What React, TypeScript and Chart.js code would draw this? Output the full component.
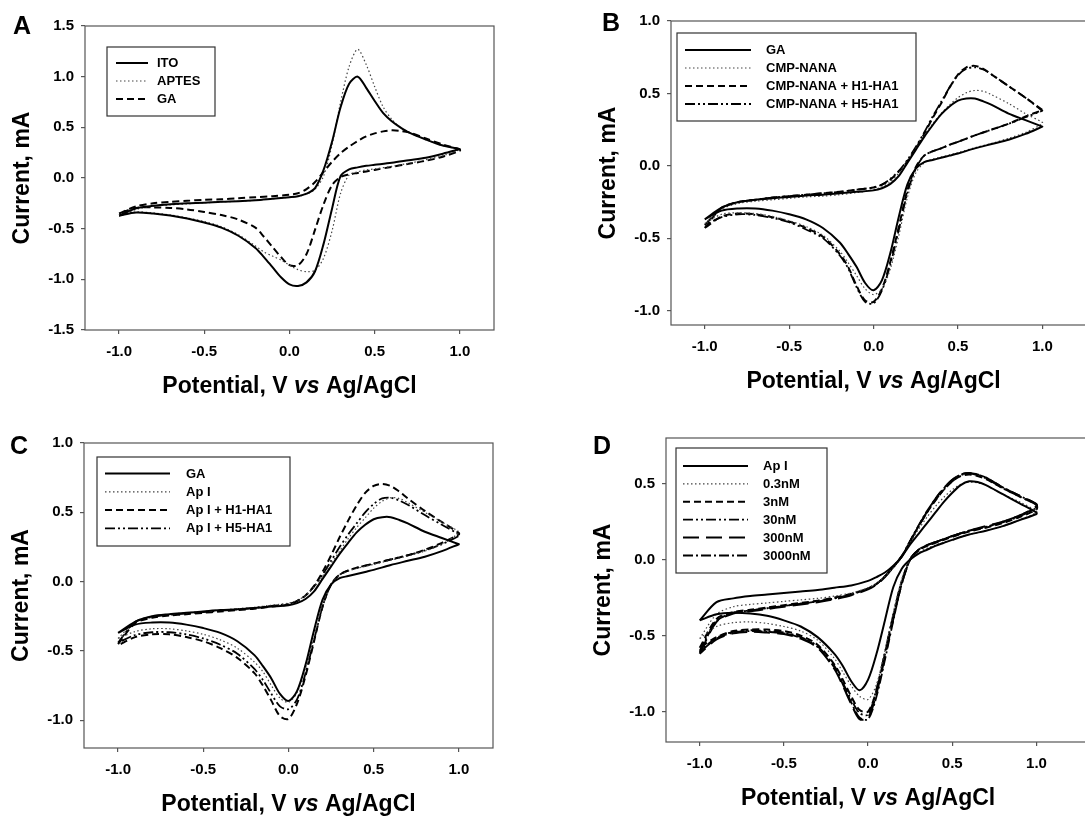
import React, { useEffect, useRef } from 'react';
import { Chart, registerables } from 'chart.js';

Chart.register(...registerables);

const FONT = '"Liberation Sans", Arial, Helvetica, sans-serif';

// Potential grids (V vs Ag/AgCl): forward (anodic) sweep and reverse (cathodic) sweep
const vFwd = [-1.0, -0.9, -0.8, -0.7, -0.6, -0.5, -0.4, -0.3, -0.2, -0.1, 0.0, 0.05, 0.1, 0.15, 0.2, 0.25, 0.3, 0.35, 0.4, 0.45, 0.5, 0.55, 0.6, 0.65, 0.7, 0.8, 0.9, 1.0];
const vRev = [1.0, 0.9, 0.8, 0.7, 0.6, 0.5, 0.45, 0.4, 0.35, 0.3, 0.25, 0.2, 0.15, 0.1, 0.05, 0.0, -0.05, -0.1, -0.15, -0.2, -0.3, -0.4, -0.5, -0.6, -0.7, -0.8, -0.9, -1.0];

const xTicks = [-1.0, -0.5, 0.0, 0.5, 1.0];
const yTicksA = [-1.5, -1.0, -0.5, 0.0, 0.5, 1.0, 1.5];
const yTicksB = [-1.0, -0.5, 0.0, 0.5, 1.0];
const yTicksC = [-1.0, -0.5, 0.0, 0.5, 1.0];
const yTicksD = [-1.0, -0.5, 0.0, 0.5];

// Panel A (mA)
const itoF = [-0.37, -0.30, -0.275, -0.26, -0.25, -0.245, -0.235, -0.23, -0.22, -0.205, -0.19, -0.18, -0.155, -0.10, 0.08, 0.36, 0.70, 0.93, 1.00, 0.89, 0.76, 0.64, 0.56, 0.50, 0.45, 0.38, 0.32, 0.285];
const itoR = [0.285, 0.24, 0.20, 0.175, 0.15, 0.13, 0.12, 0.105, 0.085, 0.02, -0.30, -0.65, -0.92, -1.03, -1.065, -1.05, -0.98, -0.88, -0.78, -0.69, -0.57, -0.49, -0.44, -0.40, -0.37, -0.35, -0.34, -0.37];
const aptesF = [-0.38, -0.31, -0.28, -0.265, -0.255, -0.245, -0.235, -0.23, -0.22, -0.205, -0.19, -0.18, -0.16, -0.11, 0.02, 0.33, 0.75, 1.10, 1.27, 1.12, 0.90, 0.70, 0.58, 0.50, 0.45, 0.38, 0.32, 0.285];
const aptesR = [0.28, 0.22, 0.18, 0.145, 0.115, 0.09, 0.08, 0.06, 0.03, -0.15, -0.52, -0.79, -0.91, -0.925, -0.905, -0.86, -0.81, -0.77, -0.73, -0.67, -0.56, -0.48, -0.43, -0.395, -0.365, -0.345, -0.335, -0.37];
const gaAF = [-0.35, -0.28, -0.25, -0.235, -0.225, -0.215, -0.21, -0.2, -0.19, -0.18, -0.165, -0.15, -0.11, -0.04, 0.06, 0.16, 0.245, 0.31, 0.365, 0.41, 0.44, 0.46, 0.47, 0.465, 0.45, 0.39, 0.33, 0.28];
const gaAR = [0.27, 0.21, 0.17, 0.14, 0.11, 0.08, 0.065, 0.05, 0.035, 0.01, -0.07, -0.26, -0.51, -0.75, -0.86, -0.86, -0.78, -0.68, -0.58, -0.49, -0.41, -0.365, -0.335, -0.31, -0.295, -0.29, -0.295, -0.35];

// GA reference (panels B and C)
const gaF = [-0.37, -0.29, -0.25, -0.235, -0.225, -0.215, -0.205, -0.2, -0.19, -0.18, -0.17, -0.155, -0.125, -0.07, 0.02, 0.11, 0.20, 0.28, 0.355, 0.41, 0.45, 0.465, 0.465, 0.445, 0.42, 0.36, 0.315, 0.27];
const gaR = [0.27, 0.22, 0.18, 0.15, 0.12, 0.085, 0.07, 0.055, 0.04, 0.025, -0.02, -0.13, -0.35, -0.60, -0.79, -0.86, -0.81, -0.70, -0.61, -0.53, -0.43, -0.37, -0.335, -0.31, -0.295, -0.295, -0.31, -0.37];

// Panel B
const cmpF = [-0.40, -0.30, -0.26, -0.245, -0.235, -0.225, -0.215, -0.21, -0.2, -0.185, -0.165, -0.145, -0.11, -0.05, 0.03, 0.12, 0.21, 0.29, 0.36, 0.42, 0.47, 0.505, 0.52, 0.515, 0.49, 0.43, 0.36, 0.30];
const cmpR = [0.29, 0.23, 0.19, 0.155, 0.125, 0.09, 0.075, 0.06, 0.045, 0.02, -0.05, -0.22, -0.48, -0.71, -0.85, -0.89, -0.85, -0.76, -0.67, -0.59, -0.48, -0.42, -0.38, -0.35, -0.33, -0.325, -0.335, -0.40];
const h1bF = [-0.43, -0.29, -0.25, -0.235, -0.22, -0.21, -0.2, -0.19, -0.18, -0.165, -0.15, -0.13, -0.095, -0.04, 0.03, 0.12, 0.22, 0.33, 0.43, 0.54, 0.63, 0.68, 0.69, 0.67, 0.63, 0.55, 0.47, 0.385];
const h1bR = [0.385, 0.34, 0.29, 0.25, 0.21, 0.165, 0.145, 0.12, 0.10, 0.07, -0.01, -0.17, -0.42, -0.66, -0.85, -0.94, -0.93, -0.83, -0.70, -0.61, -0.49, -0.43, -0.385, -0.355, -0.335, -0.33, -0.35, -0.43];
const h5bF = [-0.41, -0.29, -0.25, -0.235, -0.22, -0.21, -0.2, -0.19, -0.18, -0.165, -0.15, -0.13, -0.09, -0.035, 0.04, 0.13, 0.23, 0.34, 0.44, 0.54, 0.625, 0.67, 0.68, 0.665, 0.63, 0.55, 0.47, 0.38];
const h5bR = [0.38, 0.335, 0.29, 0.25, 0.21, 0.165, 0.145, 0.12, 0.10, 0.07, -0.02, -0.19, -0.44, -0.68, -0.86, -0.95, -0.94, -0.84, -0.71, -0.62, -0.50, -0.44, -0.39, -0.36, -0.34, -0.335, -0.355, -0.41];

// Panel C
const apF = [-0.41, -0.29, -0.25, -0.235, -0.225, -0.215, -0.205, -0.195, -0.185, -0.17, -0.155, -0.135, -0.10, -0.04, 0.04, 0.13, 0.22, 0.31, 0.39, 0.46, 0.53, 0.58, 0.605, 0.60, 0.57, 0.50, 0.43, 0.36];
const apR = [0.35, 0.27, 0.22, 0.185, 0.155, 0.125, 0.11, 0.095, 0.075, 0.045, -0.02, -0.17, -0.40, -0.62, -0.80, -0.87, -0.84, -0.75, -0.65, -0.58, -0.48, -0.42, -0.38, -0.355, -0.34, -0.34, -0.36, -0.41];
const h1cF = [-0.45, -0.30, -0.26, -0.245, -0.235, -0.225, -0.215, -0.205, -0.195, -0.18, -0.165, -0.14, -0.10, -0.03, 0.07, 0.19, 0.32, 0.44, 0.55, 0.64, 0.69, 0.705, 0.69, 0.65, 0.60, 0.51, 0.43, 0.35];
const h1cR = [0.34, 0.28, 0.23, 0.19, 0.16, 0.13, 0.115, 0.10, 0.08, 0.05, -0.02, -0.18, -0.43, -0.68, -0.88, -0.99, -0.97, -0.86, -0.75, -0.66, -0.55, -0.48, -0.43, -0.40, -0.38, -0.38, -0.40, -0.46];
const h5cF = [-0.44, -0.29, -0.255, -0.24, -0.23, -0.22, -0.21, -0.2, -0.19, -0.175, -0.16, -0.14, -0.10, -0.035, 0.05, 0.15, 0.25, 0.34, 0.42, 0.50, 0.56, 0.60, 0.605, 0.585, 0.555, 0.48, 0.41, 0.34];
const h5cR = [0.33, 0.27, 0.225, 0.19, 0.16, 0.13, 0.115, 0.10, 0.08, 0.05, -0.02, -0.18, -0.42, -0.66, -0.85, -0.92, -0.90, -0.81, -0.71, -0.63, -0.52, -0.455, -0.41, -0.38, -0.365, -0.365, -0.385, -0.44];

// Panel D
const apDF = [-0.40, -0.28, -0.255, -0.24, -0.23, -0.22, -0.21, -0.2, -0.185, -0.17, -0.14, -0.115, -0.085, -0.04, 0.02, 0.10, 0.17, 0.24, 0.31, 0.38, 0.44, 0.49, 0.515, 0.51, 0.49, 0.43, 0.37, 0.31];
const apDR = [0.30, 0.26, 0.22, 0.19, 0.165, 0.13, 0.11, 0.09, 0.065, 0.04, 0.0, -0.06, -0.18, -0.40, -0.62, -0.79, -0.86, -0.80, -0.70, -0.62, -0.51, -0.44, -0.40, -0.37, -0.355, -0.35, -0.36, -0.40];
const d03F = [-0.52, -0.36, -0.31, -0.295, -0.285, -0.275, -0.265, -0.255, -0.24, -0.22, -0.185, -0.155, -0.11, -0.05, 0.02, 0.11, 0.20, 0.28, 0.35, 0.41, 0.46, 0.495, 0.51, 0.505, 0.49, 0.43, 0.38, 0.32];
const d03R = [0.31, 0.26, 0.22, 0.19, 0.165, 0.13, 0.115, 0.095, 0.075, 0.045, 0.0, -0.13, -0.35, -0.60, -0.82, -0.92, -0.90, -0.83, -0.74, -0.65, -0.53, -0.47, -0.44, -0.42, -0.41, -0.415, -0.44, -0.52];
const d3F = [-0.58, -0.39, -0.345, -0.33, -0.315, -0.30, -0.285, -0.27, -0.25, -0.225, -0.19, -0.16, -0.11, -0.05, 0.02, 0.12, 0.22, 0.31, 0.39, 0.46, 0.515, 0.55, 0.56, 0.55, 0.53, 0.47, 0.415, 0.36];
const d3R = [0.33, 0.28, 0.24, 0.21, 0.185, 0.15, 0.13, 0.11, 0.09, 0.06, 0.0, -0.15, -0.37, -0.62, -0.86, -1.0, -0.99, -0.90, -0.79, -0.69, -0.56, -0.50, -0.47, -0.46, -0.46, -0.47, -0.51, -0.58];
const d30F = [-0.60, -0.40, -0.35, -0.335, -0.32, -0.305, -0.29, -0.275, -0.255, -0.23, -0.19, -0.16, -0.11, -0.05, 0.02, 0.12, 0.22, 0.31, 0.39, 0.46, 0.515, 0.555, 0.565, 0.555, 0.535, 0.47, 0.415, 0.36];
const d30R = [0.34, 0.285, 0.245, 0.215, 0.19, 0.155, 0.135, 0.115, 0.095, 0.065, 0.005, -0.14, -0.36, -0.61, -0.85, -1.02, -1.01, -0.92, -0.81, -0.70, -0.57, -0.51, -0.48, -0.47, -0.465, -0.475, -0.515, -0.60];
const d300F = [-0.62, -0.41, -0.355, -0.34, -0.325, -0.31, -0.295, -0.28, -0.26, -0.235, -0.195, -0.165, -0.115, -0.05, 0.02, 0.12, 0.22, 0.315, 0.40, 0.47, 0.525, 0.56, 0.57, 0.56, 0.54, 0.475, 0.42, 0.365];
const d300R = [0.35, 0.29, 0.25, 0.22, 0.19, 0.155, 0.135, 0.115, 0.095, 0.065, 0.0, -0.16, -0.39, -0.64, -0.88, -1.04, -1.05, -0.95, -0.83, -0.72, -0.58, -0.52, -0.49, -0.48, -0.475, -0.485, -0.525, -0.62];
const d3000F = [-0.61, -0.405, -0.35, -0.335, -0.32, -0.305, -0.29, -0.275, -0.255, -0.23, -0.19, -0.16, -0.11, -0.045, 0.025, 0.125, 0.225, 0.32, 0.40, 0.47, 0.525, 0.56, 0.57, 0.56, 0.54, 0.475, 0.42, 0.365];
const d3000R = [0.345, 0.29, 0.25, 0.215, 0.19, 0.155, 0.135, 0.115, 0.095, 0.065, 0.0, -0.16, -0.40, -0.66, -0.90, -1.05, -1.04, -0.94, -0.82, -0.71, -0.575, -0.515, -0.485, -0.475, -0.47, -0.48, -0.52, -0.61];

const LINE_STYLES: Record<string, { borderDash: number[]; borderWidth: number; borderColor: string }> = {
  solid: { borderDash: [], borderWidth: 2, borderColor: '#000' },
  dotted: { borderDash: [1.5, 2.5], borderWidth: 1.2, borderColor: '#444' },
  dashed: { borderDash: [7, 4], borderWidth: 2, borderColor: '#000' },
  dashDotDot: { borderDash: [10, 3, 2, 3, 2, 3], borderWidth: 1.8, borderColor: '#000' },
  longDash: { borderDash: [16, 7], borderWidth: 2, borderColor: '#000' },
  dashDot: { borderDash: [10, 3, 2, 3], borderWidth: 1.8, borderColor: '#000' },
};

type Series = { label: string; fwd: number[]; rev: number[]; style: string };

type PanelDef = {
  letter: string;
  left: number; top: number; width: number; height: number;
  pad: { left: number; right: number; top: number; bottom: number };
  xMin: number; xMax: number; yMin: number; yMax: number;
  yTicks: number[];
  series: Series[];
  legend: { x: number; y: number; w: number; h: number; row0: number; rowH: number; sx: number; sw: number; tx: number };
  letterPos: [number, number];
};

const panels: PanelDef[] = [
  {
    letter: 'A', left: 0, top: 0, width: 540, height: 400,
    pad: { left: 35, right: 46, top: 26, bottom: 40 },
    xMin: -1.2, xMax: 1.2, yMin: -1.5, yMax: 1.5, yTicks: yTicksA,
    series: [
      { label: 'ITO', fwd: itoF, rev: itoR, style: 'solid' },
      { label: 'APTES', fwd: aptesF, rev: aptesR, style: 'dotted' },
      { label: 'GA', fwd: gaAF, rev: gaAR, style: 'dashed' },
    ],
    legend: { x: 107, y: 47, w: 108, h: 69, row0: 16, rowH: 18, sx: 9, sw: 32, tx: 50 },
    letterPos: [22, 27],
  },
  {
    letter: 'B', left: 540, top: 0, width: 560, height: 400,
    pad: { left: 81, right: 7, top: 21, bottom: 45 },
    xMin: -1.2, xMax: 1.3, yMin: -1.1, yMax: 1.0, yTicks: yTicksB,
    series: [
      { label: 'GA', fwd: gaF, rev: gaR, style: 'solid' },
      { label: 'CMP-NANA', fwd: cmpF, rev: cmpR, style: 'dotted' },
      { label: 'CMP-NANA + H1-HA1', fwd: h1bF, rev: h1bR, style: 'dashed' },
      { label: 'CMP-NANA + H5-HA1', fwd: h5bF, rev: h5bR, style: 'dashDotDot' },
    ],
    legend: { x: 137, y: 33, w: 239, h: 88, row0: 17, rowH: 18, sx: 8, sw: 66, tx: 89 },
    letterPos: [71, 24],
  },
  {
    letter: 'C', left: 0, top: 400, width: 540, height: 416,
    pad: { left: 34, right: 47, top: 43, bottom: 38 },
    xMin: -1.2, xMax: 1.2, yMin: -1.2, yMax: 1.0, yTicks: yTicksC,
    series: [
      { label: 'GA', fwd: gaF, rev: gaR, style: 'solid' },
      { label: 'Ap I', fwd: apF, rev: apR, style: 'dotted' },
      { label: 'Ap I + H1-HA1', fwd: h1cF, rev: h1cR, style: 'dashed' },
      { label: 'Ap I + H5-HA1', fwd: h5cF, rev: h5cR, style: 'dashDotDot' },
    ],
    legend: { x: 97, y: 57, w: 193, h: 89, row0: 16.5, rowH: 18.3, sx: 8, sw: 65, tx: 89 },
    letterPos: [19, 47],
  },
  {
    letter: 'D', left: 540, top: 400, width: 560, height: 416,
    pad: { left: 76, right: 13, top: 38, bottom: 44 },
    xMin: -1.2, xMax: 1.3, yMin: -1.2, yMax: 0.8, yTicks: yTicksD,
    series: [
      { label: 'Ap I', fwd: apDF, rev: apDR, style: 'solid' },
      { label: '0.3nM', fwd: d03F, rev: d03R, style: 'dotted' },
      { label: '3nM', fwd: d3F, rev: d3R, style: 'dashed' },
      { label: '30nM', fwd: d30F, rev: d30R, style: 'dashDotDot' },
      { label: '300nM', fwd: d300F, rev: d300R, style: 'longDash' },
      { label: '3000nM', fwd: d3000F, rev: d3000R, style: 'dashDot' },
    ],
    legend: { x: 136, y: 48, w: 151, h: 125, row0: 18, rowH: 17.9, sx: 7, sw: 65, tx: 87 },
    letterPos: [62, 47],
  },
];

function buildLoop(fwd: number[], rev: number[]) {
  const pts: { x: number; y: number }[] = [];
  vFwd.forEach((v, i) => pts.push({ x: v, y: fwd[i] }));
  vRev.forEach((v, i) => pts.push({ x: v, y: rev[i] }));
  return pts;
}

const decorPlugin = {
  id: 'cvDecor',
  afterDraw(chart: any, _args: any, opts: any) {
    const p: PanelDef = opts.panel;
    if (!p) return;
    const { ctx, chartArea } = chart;
    const xs = chart.scales.x;
    ctx.save();
    // frame
    ctx.strokeStyle = '#555';
    ctx.lineWidth = 1.2;
    ctx.setLineDash([]);
    ctx.strokeRect(chartArea.left, chartArea.top, chartArea.right - chartArea.left, chartArea.bottom - chartArea.top);

    // legend
    const L = p.legend;
    ctx.fillStyle = '#fff';
    ctx.fillRect(L.x, L.y, L.w, L.h);
    ctx.strokeStyle = '#333';
    ctx.lineWidth = 1.2;
    ctx.strokeRect(L.x, L.y, L.w, L.h);
    p.series.forEach((s, i) => {
      const st = LINE_STYLES[s.style];
      const y = L.y + L.row0 + i * L.rowH;
      ctx.beginPath();
      ctx.setLineDash(st.borderDash);
      ctx.lineWidth = st.borderWidth;
      ctx.strokeStyle = st.borderColor;
      ctx.moveTo(L.x + L.sx, y);
      ctx.lineTo(L.x + L.sx + L.sw, y);
      ctx.stroke();
      ctx.setLineDash([]);
      ctx.fillStyle = '#000';
      ctx.font = `bold 13px ${FONT}`;
      ctx.textAlign = 'left';
      ctx.textBaseline = 'middle';
      ctx.fillText(s.label, L.x + L.tx, y + 0.5);
    });

    // y-axis title
    ctx.fillStyle = '#000';
    ctx.font = `bold 23px ${FONT}`;
    ctx.textAlign = 'center';
    ctx.textBaseline = 'middle';
    ctx.save();
    ctx.translate(chartArea.left - 62, (chartArea.top + chartArea.bottom) / 2);
    ctx.rotate(-Math.PI / 2);
    ctx.fillText('Current, mA', 0, 0);
    ctx.restore();

    // x-axis title with italic "vs"
    const parts: [string, string][] = [['Potential, V ', 'bold'], ['vs', 'italic bold'], [' Ag/AgCl', 'bold']];
    let total = 0;
    const widths = parts.map(([t, f]) => {
      ctx.font = `${f} 23px ${FONT}`;
      const w = ctx.measureText(t).width;
      total += w;
      return w;
    });
    let cx = xs.getPixelForValue(0) - total / 2;
    const ty = chartArea.bottom + 57;
    ctx.textAlign = 'left';
    parts.forEach(([t, f], i) => {
      ctx.font = `${f} 23px ${FONT}`;
      ctx.fillText(t, cx, ty);
      cx += widths[i];
    });

    // panel letter
    ctx.font = `bold 25px ${FONT}`;
    ctx.textAlign = 'center';
    ctx.fillText(p.letter, p.letterPos[0], p.letterPos[1]);
    ctx.restore();
  },
};

function Panel({ p }: { p: PanelDef }) {
  const ref = useRef<HTMLCanvasElement | null>(null);
  useEffect(() => {
    if (!ref.current) return;
    const datasets = p.series.map((s) => {
      const st = LINE_STYLES[s.style];
      return {
        label: s.label,
        data: buildLoop(s.fwd, s.rev),
        showLine: true,
        fill: false,
        pointRadius: 0,
        pointHoverRadius: 0,
        tension: 0.3,
        borderColor: st.borderColor,
        borderWidth: st.borderWidth,
        borderDash: st.borderDash,
        borderCapStyle: 'butt',
        borderJoinStyle: 'round',
      };
    });
    const tickFont = { family: FONT, size: 15, weight: 'bold' as const };
    const chart = new Chart(ref.current, {
      type: 'scatter',
      data: { datasets: datasets as any },
      options: {
        animation: false,
        responsive: false,
        maintainAspectRatio: false,
        devicePixelRatio: 1,
        layout: { padding: p.pad },
        plugins: {
          legend: { display: false },
          tooltip: { enabled: false },
          cvDecor: { panel: p },
        } as any,
        scales: {
          x: {
            type: 'linear',
            min: p.xMin,
            max: p.xMax,
            afterBuildTicks: (scale: any) => { scale.ticks = xTicks.map((v) => ({ value: v })); },
            afterFit: (scale: any) => { scale.height = 30; },
            grid: { display: true, drawOnChartArea: false, drawTicks: true, tickLength: 4, color: '#555', lineWidth: 1.2 },
            border: { display: false },
            ticks: { color: '#000', font: tickFont, padding: 9, maxRotation: 0, autoSkip: false, callback: (v: any) => Number(v).toFixed(1) },
          },
          y: {
            type: 'linear',
            min: p.yMin,
            max: p.yMax,
            afterBuildTicks: (scale: any) => { scale.ticks = p.yTicks.map((v) => ({ value: v })); },
            afterFit: (scale: any) => { scale.width = 50; },
            grid: { display: true, drawOnChartArea: false, drawTicks: true, tickLength: 4, color: '#555', lineWidth: 1.2 },
            border: { display: false },
            ticks: { color: '#000', font: tickFont, padding: 7, autoSkip: false, callback: (v: any) => Number(v).toFixed(1) },
          },
        },
      },
      plugins: [decorPlugin as any],
    });
    return () => chart.destroy();
  }, [p]);
  return (
    <canvas
      ref={ref}
      width={p.width}
      height={p.height}
      style={{ position: 'absolute', left: p.left, top: p.top, width: p.width, height: p.height }}
    />
  );
}

export default function App() {
  return (
    <div style={{ position: 'fixed', left: 0, top: 0, width: 1085, height: 816, overflow: 'hidden', background: '#fff' }}>
      {panels.map((p) => (
        <Panel key={p.letter} p={p} />
      ))}
    </div>
  );
}
